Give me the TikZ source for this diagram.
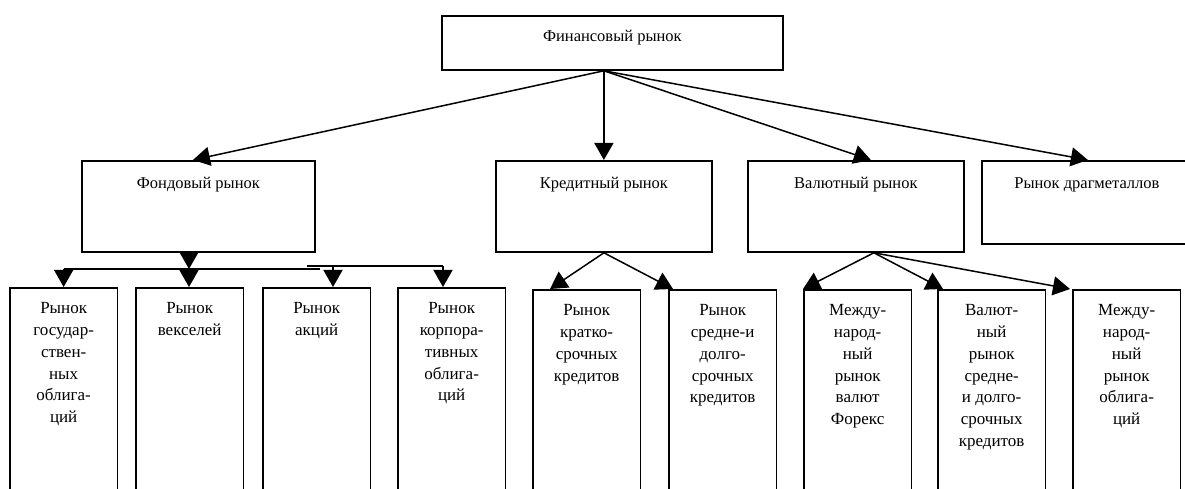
\documentclass[tikz,border=0pt]{standalone}
\usepackage{fontspec}
\setmainfont{Liberation Serif}
\usetikzlibrary{arrows.meta}

\newcommand{\leaftext}[1]{\begin{tabular}[t]{@{}c@{}}#1\end{tabular}}

\tikzset{
  box/.style={draw, line width=1.8bp, inner sep=0pt, anchor=north west, align=center,
    font=\fontsize{16.5bp}{21.7bp}\selectfont},
  leaf/.style={box, minimum width=107.5bp, text height=26bp, text depth=214bp,
    font=\fontsize{17bp}{21.7bp}\selectfont},
  arr/.style={line width=1.5bp, -{Triangle[length=17bp,width=19bp]}},
}

\begin{document}
\begin{tikzpicture}[x=1bp,y=-1bp]
    \useasboundingbox (0,0) rectangle (1185,489);
    \clip (0,0) rectangle (1185,489);

    % top
    \node[box, minimum width=341bp, text height=25.5bp, text depth=28.5bp] (fin) at (441,15) {Финансовый рынок};

    % second row
    \node[box, minimum width=233bp, text height=27.5bp, text depth=63.5bp] (fond) at (81,160) {Фондовый рынок};
    \node[box, minimum width=216bp, text height=27.5bp, text depth=63.5bp] (kred) at (495,160) {Кредитный рынок};
    \node[box, minimum width=216bp, text height=27.5bp, text depth=63.5bp] (val) at (747,160) {Валютный рынок};
    \node[box, minimum width=210bp, text height=27.5bp, text depth=55.5bp] (drag) at (981,160) {Рынок драгметаллов};

    % third row
    \node[leaf] (b1) at (9,287) {\leaftext{Рынок\\государ-\\ствен-\\ных\\облига-\\ций}};
    \node[leaf] (b2) at (135,287) {\leaftext{Рынок\\векселей}};
    \node[leaf] (b3) at (262,287) {\leaftext{Рынок\\акций}};
    \node[leaf] (b4) at (397,287) {\leaftext{Рынок\\корпора-\\тивных\\облига-\\ций}};
    \node[leaf] (b5) at (532,289) {\leaftext{Рынок\\кратко-\\срочных\\кредитов}};
    \node[leaf] (b6) at (668,289) {\leaftext{Рынок\\средне-и\\долго-\\срочных\\кредитов}};
    \node[leaf] (b7) at (803,289) {\leaftext{Между-\\народ-\\ный\\рынок\\валют\\Форекс}};
    \node[leaf] (b8) at (937,289) {\leaftext{Валют-\\ный\\рынок\\средне-\\и долго-\\срочных\\кредитов}};
    \node[leaf] (b9) at (1072,289) {\leaftext{Между-\\народ-\\ный\\рынок\\облига-\\ций}};

    % from the top box
    \draw[arr] (fin.south -| kred.north) -- ([xshift=-5.5bp]fond.north);
    \draw[arr] (fin.south -| kred.north) -- (kred.north);
    \draw[arr] (fin.south -| kred.north) -- ([xshift=15bp]val.north);
    \draw[arr] (fin.south -| kred.north) -- ([xshift=1bp]drag.north);

    % fondovy bus
    \coordinate (bus) at (189,269);
    \coordinate (busend) at (320,269);
    \coordinate (bus2) at (307,266);
    \coordinate (tip3) at (333,266);
    \coordinate (bus2end) at (443,266);
    \draw[arr] (fond.south -| bus) -- (bus);
    \draw[line width=1.5bp] (bus -| b1.north) -- (busend);
    \draw[line width=1.5bp] (bus2) -- (bus2end);
    \draw[arr] (bus -| b1.north) -- (b1.north);
    \draw[arr] (bus) -- (bus |- b2.north);
    \draw[arr] (tip3) -- (tip3 |- b3.north);
    \draw[arr] (bus2end) -- (bus2end |- b4.north);

    % kreditny
    \draw[arr] (kred.south) -- ([xshift=18bp]b5.north west);
    \draw[arr] (kred.south) -- ([xshift=5bp]b6.north west);

    % valyutny
    \coordinate (valout) at ([xshift=18bp]val.south);
    \draw[arr] (valout) -- (b7.north west);
    \draw[arr] (valout) -- ([xshift=6bp]b8.north west);
    \draw[arr] (valout) -- ([xshift=-2bp]b9.north west);
\end{tikzpicture}
\end{document}
